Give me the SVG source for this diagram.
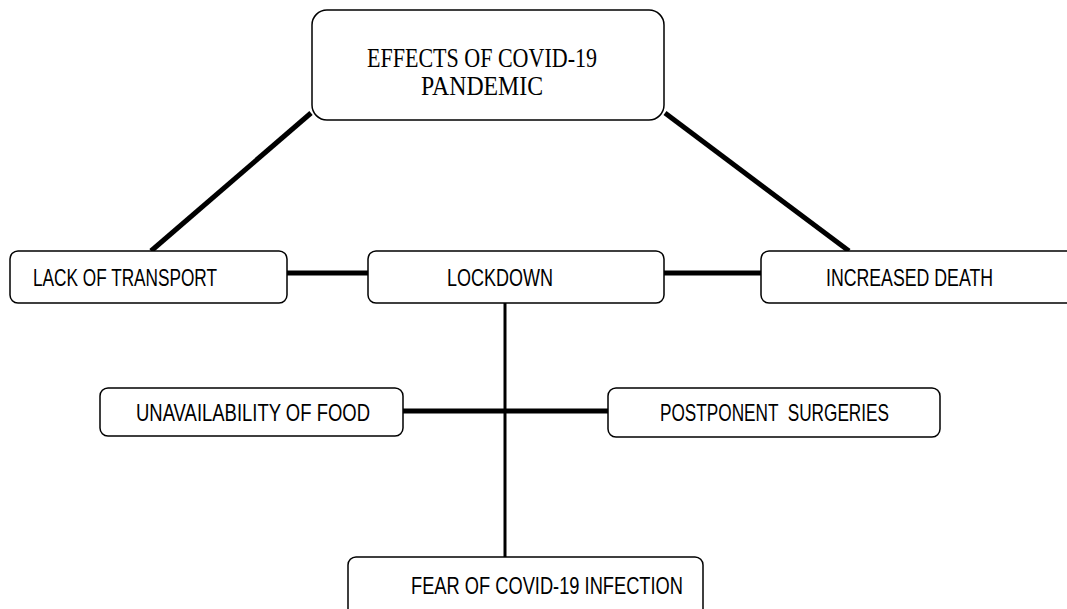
<svg xmlns="http://www.w3.org/2000/svg" width="1067" height="609" viewBox="0 0 1067 609">
<style>
.box{fill:#fff;stroke:#000;stroke-width:1.5}
.lbl{font-family:"Liberation Sans",Arial,sans-serif;font-size:24px;fill:#000}
.ttl{font-family:"Liberation Serif","Times New Roman",serif;font-size:28px;fill:#000}
.con{stroke:#000;fill:none;stroke-linecap:butt}
</style>
<rect width="1067" height="609" fill="#fff"/>
<g id="connectors">
<line class="con" x1="311" y1="113" x2="151" y2="251" stroke-width="5"/>
<line class="con" x1="665" y1="113" x2="849" y2="251" stroke-width="5"/>
<line class="con" x1="287" y1="273" x2="368" y2="273" stroke-width="5"/>
<line class="con" x1="664" y1="273" x2="761" y2="273" stroke-width="5"/>
<line class="con" x1="505" y1="303" x2="505" y2="557" stroke-width="3"/>
<line class="con" x1="403" y1="411" x2="608" y2="411" stroke-width="5"/>
</g>
<g id="n-effects">
<rect class="box" x="312" y="10" width="352" height="110" rx="15"/>
<text class="ttl" x="482" y="67" text-anchor="middle" textLength="230" lengthAdjust="spacingAndGlyphs">EFFECTS OF COVID-19</text>
<text class="ttl" x="482" y="95" text-anchor="middle" textLength="122" lengthAdjust="spacingAndGlyphs">PANDEMIC</text>
</g>
<g id="n-transport">
<rect class="box" x="10" y="251" width="277" height="52" rx="8"/>
<text class="lbl" x="33" y="286" textLength="184" lengthAdjust="spacingAndGlyphs">LACK OF TRANSPORT</text>
</g>
<g id="n-lockdown">
<rect class="box" x="368" y="251" width="296" height="52" rx="8"/>
<text class="lbl" x="447" y="286" textLength="106" lengthAdjust="spacingAndGlyphs">LOCKDOWN</text>
</g>
<g id="n-death">
<rect class="box" x="761" y="251" width="320" height="52" rx="8"/>
<text class="lbl" x="826" y="286" textLength="167" lengthAdjust="spacingAndGlyphs">INCREASED DEATH</text>
</g>
<g id="n-food">
<rect class="box" x="100" y="388" width="303" height="48" rx="8"/>
<text class="lbl" x="136" y="421" textLength="234" lengthAdjust="spacingAndGlyphs">UNAVAILABILITY OF FOOD</text>
</g>
<g id="n-surgeries">
<rect class="box" x="608" y="388" width="332" height="49" rx="8"/>
<text class="lbl" x="660" y="421" textLength="229" lengthAdjust="spacingAndGlyphs" style="white-space:pre">POSTPONENT  SURGERIES</text>
</g>
<g id="n-fear">
<rect class="box" x="348" y="557" width="355" height="60" rx="8"/>
<text class="lbl" x="411" y="594" textLength="272" lengthAdjust="spacingAndGlyphs">FEAR OF COVID-19 INFECTION</text>
</g>
</svg>
